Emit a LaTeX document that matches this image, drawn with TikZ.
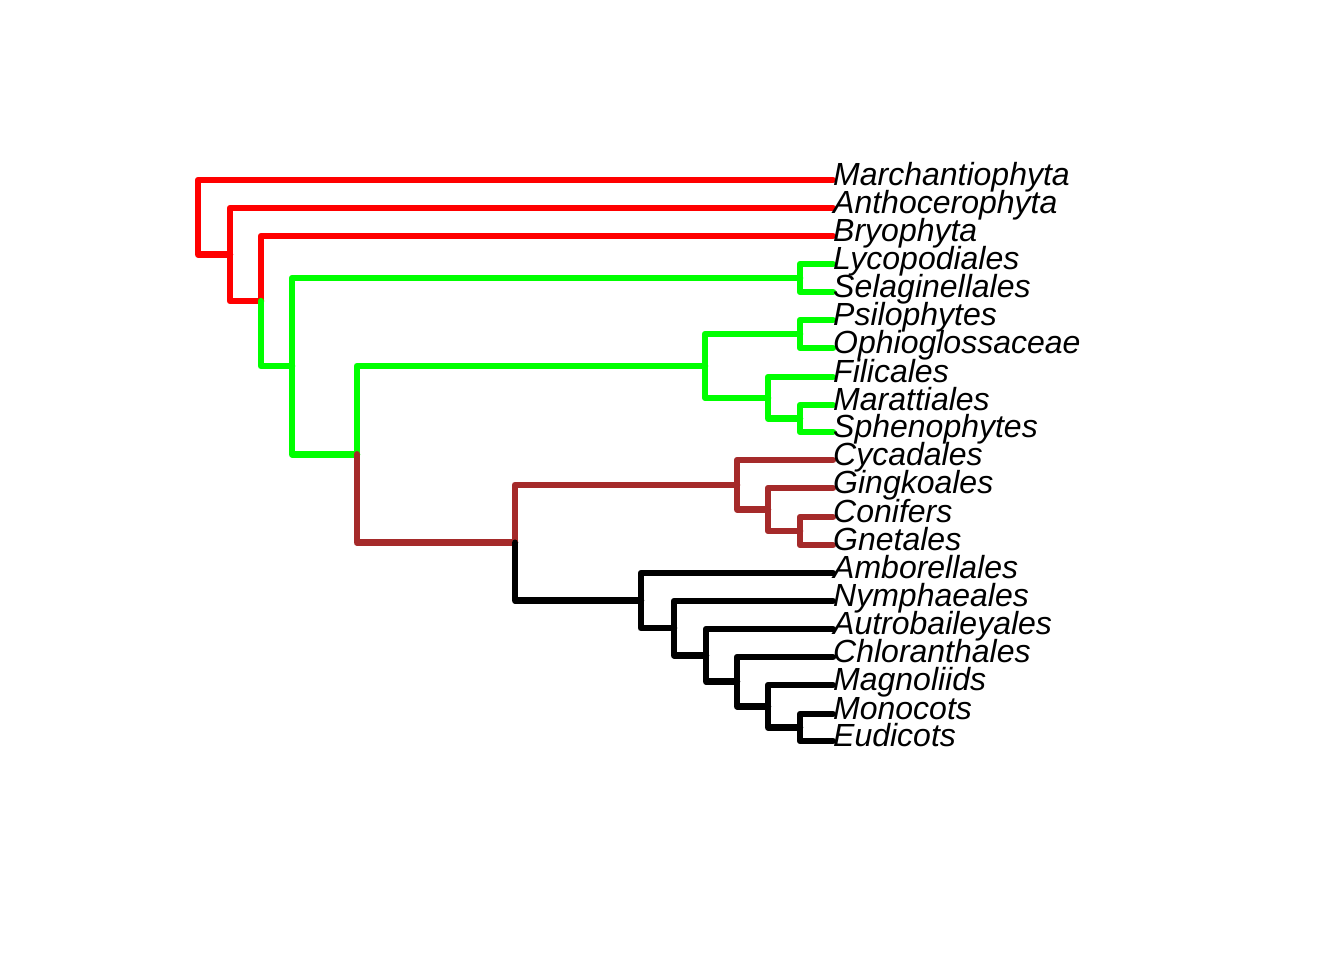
\documentclass[tikz,border=0pt]{standalone}
\usepackage{fontspec}
\setmainfont{Liberation Sans}
\definecolor{rred}{RGB}{255,0,0}
\definecolor{rgreen}{RGB}{0,255,0}
\definecolor{rbrown}{RGB}{165,42,42}
\begin{document}
\begin{tikzpicture}[x=1pt,y=-1pt,
  edge/.style={line width=6.5pt,line cap=round,line join=round},
  lab/.style={anchor=base west,inner sep=0pt,font=\fontsize{32}{32}\selectfont\itshape}]
\useasboundingbox (0,0) rectangle (1344,960);
% tips
\coordinate (t1) at (833,180);
\coordinate (t2) at (833,208);
\coordinate (t3) at (833,236);
\coordinate (t4) at (833,264);
\coordinate (t5) at (833,292);
\coordinate (t6) at (833,320);
\coordinate (t7) at (833,348);
\coordinate (t8) at (833,377);
\coordinate (t9) at (833,405);
\coordinate (t10) at (833,432);
\coordinate (t11) at (833,460);
\coordinate (t12) at (833,488);
\coordinate (t13) at (833,517);
\coordinate (t14) at (833,545);
\coordinate (t15) at (833,573);
\coordinate (t16) at (833,601);
\coordinate (t17) at (833,629);
\coordinate (t18) at (833,657);
\coordinate (t19) at (833,685);
\coordinate (t20) at (833,714);
\coordinate (t21) at (833,741);
% internal nodes
\coordinate (root) at (198,217.3);
\coordinate (nA) at (230,254.5);
\coordinate (nB) at (261,301.1);
\coordinate (nTr) at (292,366.2);
\coordinate (nLS) at (800,278);
\coordinate (nVs) at (357,454.3);
\coordinate (nFe) at (705,365.9);
\coordinate (nPO) at (800,334);
\coordinate (nF) at (768,397.75);
\coordinate (nMS) at (800,418.5);
\coordinate (nSe) at (515,542.7);
\coordinate (nGy) at (737,484.75);
\coordinate (nGi) at (768,509.5);
\coordinate (nCG) at (800,531);
\coordinate (nAn) at (641,600.6);
\coordinate (nNy) at (674,628.2);
\coordinate (nAu) at (706,655.3);
\coordinate (nCh) at (737,681.6);
\coordinate (nMa) at (768,706.25);
\coordinate (nME) at (800,727.5);
% red
\draw[edge,rred] (root) |- (t1) (root) |- (nA) (nA) |- (t2) (nA) |- (nB) (nB) |- (t3);
% green
\draw[edge,rgreen] (nB) |- (nTr) (nTr) |- (nLS) (nLS) |- (t4) (nLS) |- (t5)
  (nTr) |- (nVs) (nVs) |- (nFe) (nFe) |- (nPO) (nPO) |- (t6) (nPO) |- (t7)
  (nFe) |- (nF) (nF) |- (t8) (nF) |- (nMS) (nMS) |- (t9) (nMS) |- (t10);
% brown
\draw[edge,rbrown] (nVs) |- (nSe) (nSe) |- (nGy) (nGy) |- (t11) (nGy) |- (nGi)
  (nGi) |- (t12) (nGi) |- (nCG) (nCG) |- (t13) (nCG) |- (t14);
% black
\draw[edge,black] (nSe) |- (nAn) (nAn) |- (t15) (nAn) |- (nNy) (nNy) |- (t16)
  (nNy) |- (nAu) (nAu) |- (t17) (nAu) |- (nCh) (nCh) |- (t18) (nCh) |- (nMa)
  (nMa) |- (t19) (nMa) |- (nME) (nME) |- (t20) (nME) |- (t21);
% labels
\node[lab] (l1) at ([yshift=-5.5pt]t1) {Marchantiophyta};
\node[lab] (l2) at ([yshift=-5.5pt]t2) {Anthocerophyta};
\node[lab] (l3) at ([yshift=-5.5pt]t3) {Bryophyta};
\node[lab] (l4) at ([yshift=-5.5pt]t4) {Lycopodiales};
\node[lab] (l5) at ([yshift=-5.5pt]t5) {Selaginellales};
\node[lab] (l6) at ([yshift=-5.5pt]t6) {Psilophytes};
\node[lab] (l7) at ([yshift=-5.5pt]t7) {Ophioglossaceae};
\node[lab] (l8) at ([yshift=-5.5pt]t8) {Filicales};
\node[lab] (l9) at ([yshift=-5.5pt]t9) {Marattiales};
\node[lab] (l10) at ([yshift=-5.5pt]t10) {Sphenophytes};
\node[lab] (l11) at ([yshift=-5.5pt]t11) {Cycadales};
\node[lab] (l12) at ([yshift=-5.5pt]t12) {Gingkoales};
\node[lab] (l13) at ([yshift=-5.5pt]t13) {Conifers};
\node[lab] (l14) at ([yshift=-5.5pt]t14) {Gnetales};
\node[lab] (l15) at ([yshift=-5.5pt]t15) {Amborellales};
\node[lab] (l16) at ([yshift=-5.5pt]t16) {Nymphaeales};
\node[lab] (l17) at ([yshift=-5.5pt]t17) {Autrobaileyales};
\node[lab] (l18) at ([yshift=-5.5pt]t18) {Chloranthales};
\node[lab] (l19) at ([yshift=-5.5pt]t19) {Magnoliids};
\node[lab] (l20) at ([yshift=-5.5pt]t20) {Monocots};
\node[lab] (l21) at ([yshift=-5.5pt]t21) {Eudicots};
\end{tikzpicture}
\end{document}
